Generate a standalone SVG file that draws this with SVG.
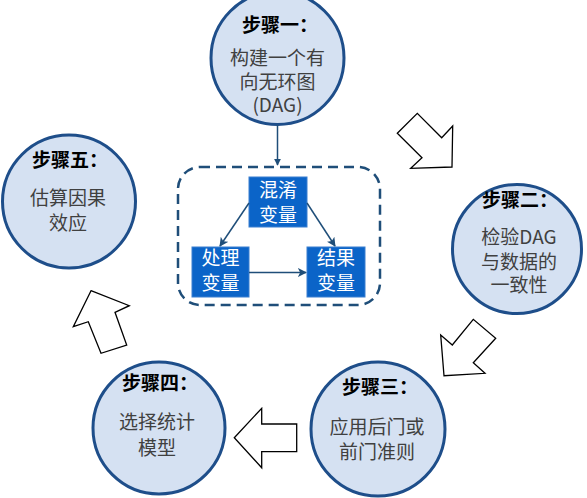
<svg xmlns="http://www.w3.org/2000/svg" width="587" height="498" viewBox="0 0 587 498">
<defs>
<marker id="ah" viewBox="0 0 10 10" refX="9" refY="5" markerWidth="7" markerHeight="7" markerUnits="userSpaceOnUse" orient="auto">
<path d="M0,0 L10,5 L0,10 z" fill="#1F4E79"/>
</marker>
<marker id="ah2" viewBox="0 0 10 10" refX="9" refY="5" markerWidth="9" markerHeight="9" markerUnits="userSpaceOnUse" orient="auto">
<path d="M0,0 L10,5 L0,10 L2.5,5 z" fill="#1F4E79"/>
</marker>
</defs>
<style>
.step{fill:#D5E1F2;stroke:#1E4E8A;stroke-width:3}
.title{font-family:"Noto Sans CJK SC","Noto Sans",sans-serif;font-size:19px;font-weight:bold;fill:#000;text-anchor:middle}
.body{font-family:"Noto Sans CJK SC","Liberation Sans",sans-serif;font-size:19px;fill:#404040;text-anchor:middle}
.var{fill:#0B64C8;stroke:#3B7FD0;stroke-width:1}
.vt{font-family:"Noto Sans CJK SC","Noto Sans",sans-serif;font-size:19px;fill:#fff;text-anchor:middle}
.blk{fill:#fff;stroke:#000;stroke-width:1.3;stroke-linejoin:miter}
.con{stroke:#1F4E79;stroke-width:1.5;fill:none}
</style>
<rect width="587" height="498" fill="#fff"/>
<g id="step1">
<circle class="step" cx="277.5" cy="58" r="66.5"/>
<text class="title" x="280" y="32">步骤一：</text>
<text class="body" x="277.5" y="65">构建一个有</text>
<text class="body" x="277.5" y="89">向无环图</text>
<text class="body" x="277.5" y="112">(DAG)</text>
</g>
<g id="step2">
<circle class="step" cx="517" cy="249" r="64.5"/>
<text class="title" x="520" y="207">步骤二：</text>
<text class="body" x="519" y="244">检验DAG</text>
<text class="body" x="519" y="269">与数据的</text>
<text class="body" x="519" y="292">一致性</text>
</g>
<g id="step3">
<circle class="step" cx="378" cy="429" r="67"/>
<text class="title" x="380" y="394">步骤三：</text>
<text class="body" x="377" y="434">应用后门或</text>
<text class="body" x="377" y="459">前门准则</text>
</g>
<g id="step4">
<circle class="step" cx="159" cy="428" r="66"/>
<text class="title" x="160" y="390">步骤四：</text>
<text class="body" x="157" y="429">选择统计</text>
<text class="body" x="157" y="455">模型</text>
</g>
<g id="step5">
<circle class="step" cx="69" cy="201.5" r="66.5"/>
<text class="title" x="70" y="167">步骤五：</text>
<text class="body" x="68" y="205">估算因果</text>
<text class="body" x="68" y="230">效应</text>
</g>
<g id="dagbox">
<rect x="178" y="167" width="202" height="138" rx="22" ry="22" fill="none" stroke="#1F4E79" stroke-width="2.5" stroke-dasharray="10 6"/>
</g>
<g id="confounder">
<rect class="var" x="249" y="177" width="58" height="50"/>
<text class="vt" x="278" y="197">混淆</text>
<text class="vt" x="278" y="222">变量</text>
</g>
<g id="treatment">
<rect class="var" x="192" y="247" width="57" height="50"/>
<text class="vt" x="220.5" y="265">处理</text>
<text class="vt" x="220.5" y="290">变量</text>
</g>
<g id="outcome">
<rect class="var" x="307" y="247" width="58" height="50"/>
<text class="vt" x="336" y="265">结果</text>
<text class="vt" x="336" y="290">变量</text>
</g>
<g id="connectors">
<line class="con" x1="277.5" y1="125" x2="277.5" y2="165" marker-end="url(#ah)"/>
<line class="con" x1="249" y1="203" x2="220" y2="246" marker-end="url(#ah2)"/>
<line class="con" x1="307" y1="203" x2="335" y2="246" marker-end="url(#ah2)"/>
<line class="con" x1="249" y1="272.5" x2="306" y2="272.5" marker-end="url(#ah2)"/>
</g>
<g id="flow-arrows">
<polygon class="blk" points="397.3,133.3 417.3,113.3 441.7,137.7 452.7,126 452,167 410.7,168.3 422,157.7"/>
<polygon class="blk" points="444,375.7 440.7,335 452.3,345 473.3,319.3 495.7,338.3 473.3,362.7 485,373.3"/>
<polygon class="blk" points="234.3,437.7 261.7,408.3 261.7,424 296.7,424 296.7,451.7 261.7,451.7 261.7,467.7"/>
<polygon class="blk" points="91,290.7 129.3,305.7 115,312.3 126.7,345 101,353.3 88.3,321.7 73.3,326.7"/>
</g>
</svg>
